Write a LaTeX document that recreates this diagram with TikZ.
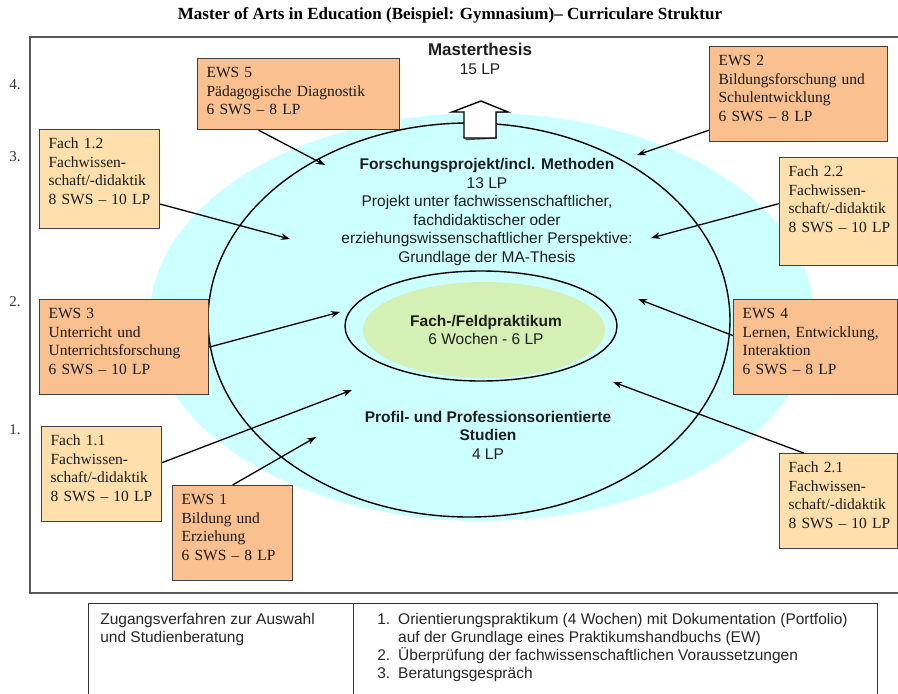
\documentclass[tikz,border=0pt]{standalone}
\usepackage{fontspec}
\setmainfont{Liberation Serif}
\setsansfont{Liberation Sans}
\usepackage{tikz}
\usetikzlibrary{arrows.meta}
\usepackage{xcolor}
\definecolor{ewsorange}{RGB}{250,192,143}
\definecolor{fachorange}{RGB}{255,224,172}
\definecolor{lightcyan}{RGB}{204,255,255}
\definecolor{lightgreen}{RGB}{212,240,180}
\definecolor{textgray}{RGB}{30,30,30}

\begin{document}
\begin{tikzpicture}[x=1pt,y=-1pt,>={Stealth[length=9pt,width=6.5pt]},semithick]
  \tikzstyle{box}=[draw=black!75,line width=1.2pt,anchor=north west,align=left,
    inner xsep=9pt,inner ysep=8pt,text height=11pt,text=black!90,
    font=\fontsize{15.5}{18.5}\selectfont]
  \tikzstyle{ews}=[box,fill=ewsorange]
  \tikzstyle{fach}=[box,fill=fachorange]
  \tikzstyle{centre}=[align=center,text=textgray,font=\sffamily\fontsize{15.5}{18.5}\selectfont]
  \tikzstyle{rowlabel}=[text=black!80,font=\fontsize{15}{18}\selectfont]
  \tikzstyle{tabtext}=[anchor=base west,inner sep=0pt,text=black!85,font=\sffamily\fontsize{15.5}{18}\selectfont]
  \tikzstyle{link}=[->,line width=1.3pt]

  \useasboundingbox (0,0) rectangle (898,694);

  \node[font=\bfseries\fontsize{17}{20}\selectfont] (title) at (450,15)
    {Master of Arts in Education (Beispiel: Gymnasium)– Curriculare Struktur};

  % frame
  \draw[line width=1.6pt,black!65] (899,37) -- (30,37) -- (30,593) -- (899,593);

  % ellipses
  \fill[lightcyan] (482,317) ellipse [x radius=332pt,y radius=204pt];
  \draw[line width=1.4pt] (469,320) ellipse [x radius=261pt,y radius=197pt];
  \fill[lightgreen] (484,330) ellipse [x radius=121pt,y radius=48pt];
  \draw[line width=1.4pt] (481,326) ellipse [x radius=136pt,y radius=55pt];

  % block arrow to the thesis
  \draw[line width=1.4pt,line join=miter,black!70]
    ([shift={(1.5,1.5)}]464,138) -- (496,138) -- (496,112) -- (508,112);
  \draw[fill=white,line width=1.4pt,line join=miter]
    (464,138) -- (464,112) -- (452,112) -- (481,101) -- (508,112) -- (496,112) -- (496,138) -- cycle;

  \node[rowlabel] (R4) at (15,85)  {4.};
  \node[rowlabel] (R3) at (15,157) {3.};
  \node[rowlabel] (R2) at (15,302) {2.};
  \node[rowlabel] (R1) at (15,430) {1.};

  \node[centre] (MT) at (480,59) {{\bfseries\fontsize{17}{19}\selectfont Masterthesis}\\15 LP};
  \node[centre] (FP) at (487,212) {\textbf{Forschungsprojekt/incl. Methoden}\\13 LP\\
    Projekt unter fachwissenschaftlicher,\\fachdidaktischer oder\\
    erziehungswissenschaftlicher Perspektive:\\Grundlage der MA-Thesis};
  \node[centre] (PR) at (486,330) {\textbf{Fach-/Feldpraktikum}\\6 Wochen - 6 LP};
  \node[centre] (PS) at (488,435) {\textbf{Profil- und Professionsorientierte}\\\textbf{Studien}\\4 LP};

  \node[ews,text width=184pt,text depth=44pt]  (E5)  at (197,58)  {EWS 5\\\mbox{Pädagogische Diagnostik}\\\mbox{6 SWS – 8 LP}};
  \node[fach,text width=102pt,text depth=72pt] (F12) at (39,129)  {Fach 1.2\\Fachwissen-\\\mbox{schaft/-didaktik}\\\mbox{8 SWS – 10 LP}};
  \node[ews,text width=160pt,text depth=68pt]  (E2)  at (709,46)  {EWS 2\\\mbox{Bildungsforschung und}\\Schulentwicklung\\\mbox{6 SWS – 8 LP}};
  \node[fach,text width=100pt,text depth=81pt] (F22) at (779,157) {Fach 2.2\\Fachwissen-\\\mbox{schaft/-didaktik}\\\mbox{8 SWS – 10 LP}};
  \node[ews,text width=151pt,text depth=68pt]  (E3)  at (39,299)  {EWS 3\\Unterricht und\\Unterrichtsforschung\\\mbox{6 SWS – 10 LP}};
  \node[ews,text width=146pt,text depth=68pt]  (E4)  at (733,299) {EWS 4\\\mbox{Lernen, Entwicklung,}\\Interaktion\\\mbox{6 SWS – 8 LP}};
  \node[fach,text width=102pt,text depth=68pt] (F11) at (41,426)  {Fach 1.1\\Fachwissen-\\\mbox{schaft/-didaktik}\\\mbox{8 SWS – 10 LP}};
  \node[ews,text width=102pt,text depth=68pt]  (E1)  at (172,485) {EWS 1\\Bildung und\\Erziehung\\\mbox{6 SWS – 8 LP}};
  \node[fach,text width=100pt,text depth=68pt] (F21) at (779,453) {Fach 2.1\\Fachwissen-\\\mbox{schaft/-didaktik}\\\mbox{8 SWS – 10 LP}};

  \coordinate (t5)  at (325,165);
  \coordinate (t12) at (290,239);
  \coordinate (t2)  at (637,155);
  \coordinate (t22) at (651,238);
  \coordinate (t3)  at (340,312);
  \coordinate (t4)  at (638,299);
  \coordinate (t11) at (352,390);
  \coordinate (t1)  at (316,437);
  \coordinate (t21) at (613,382);

  \path[link]
    ([xshift=-40pt]E5.south)  edge (t5)
    ([yshift=-25pt]F12.east)  edge (t12)
    ([yshift=12pt]E2.south west) edge (t2)
    ([yshift=8pt]F22.west)    edge (t22)
    (E3.east)                 edge (t3)
    ([yshift=11.5pt]E4.west)  edge (t4)
    ([yshift=11.5pt]F11.east) edge (t11)
    (E1.north)                edge (t1)
    ([xshift=-35pt]F21.north) edge (t21);

  % admission table
  \draw[line width=1pt,black!80] (88,700) -- (88,603) -- (877,603) -- (877,700);
  \draw[line width=1pt,black!80] (353,603) -- (353,700);
  \node[tabtext] (ZV) at (100,624)
    {\begin{tabular}[t]{@{}l@{}}Zugangsverfahren zur Auswahl\\und Studienberatung\end{tabular}};
  \node[tabtext] (LS) at (377,624)
    {\begin{tabular}[t]{@{}l@{\hspace{8pt}}l@{}}
      1. & Orientierungspraktikum (4 Wochen) mit Dokumentation (Portfolio)\\
         & auf der Grundlage eines Praktikumshandbuchs (EW)\\
      2. & Überprüfung der fachwissenschaftlichen Voraussetzungen\\
      3. & Beratungsgespräch
    \end{tabular}};
\end{tikzpicture}
\end{document}
